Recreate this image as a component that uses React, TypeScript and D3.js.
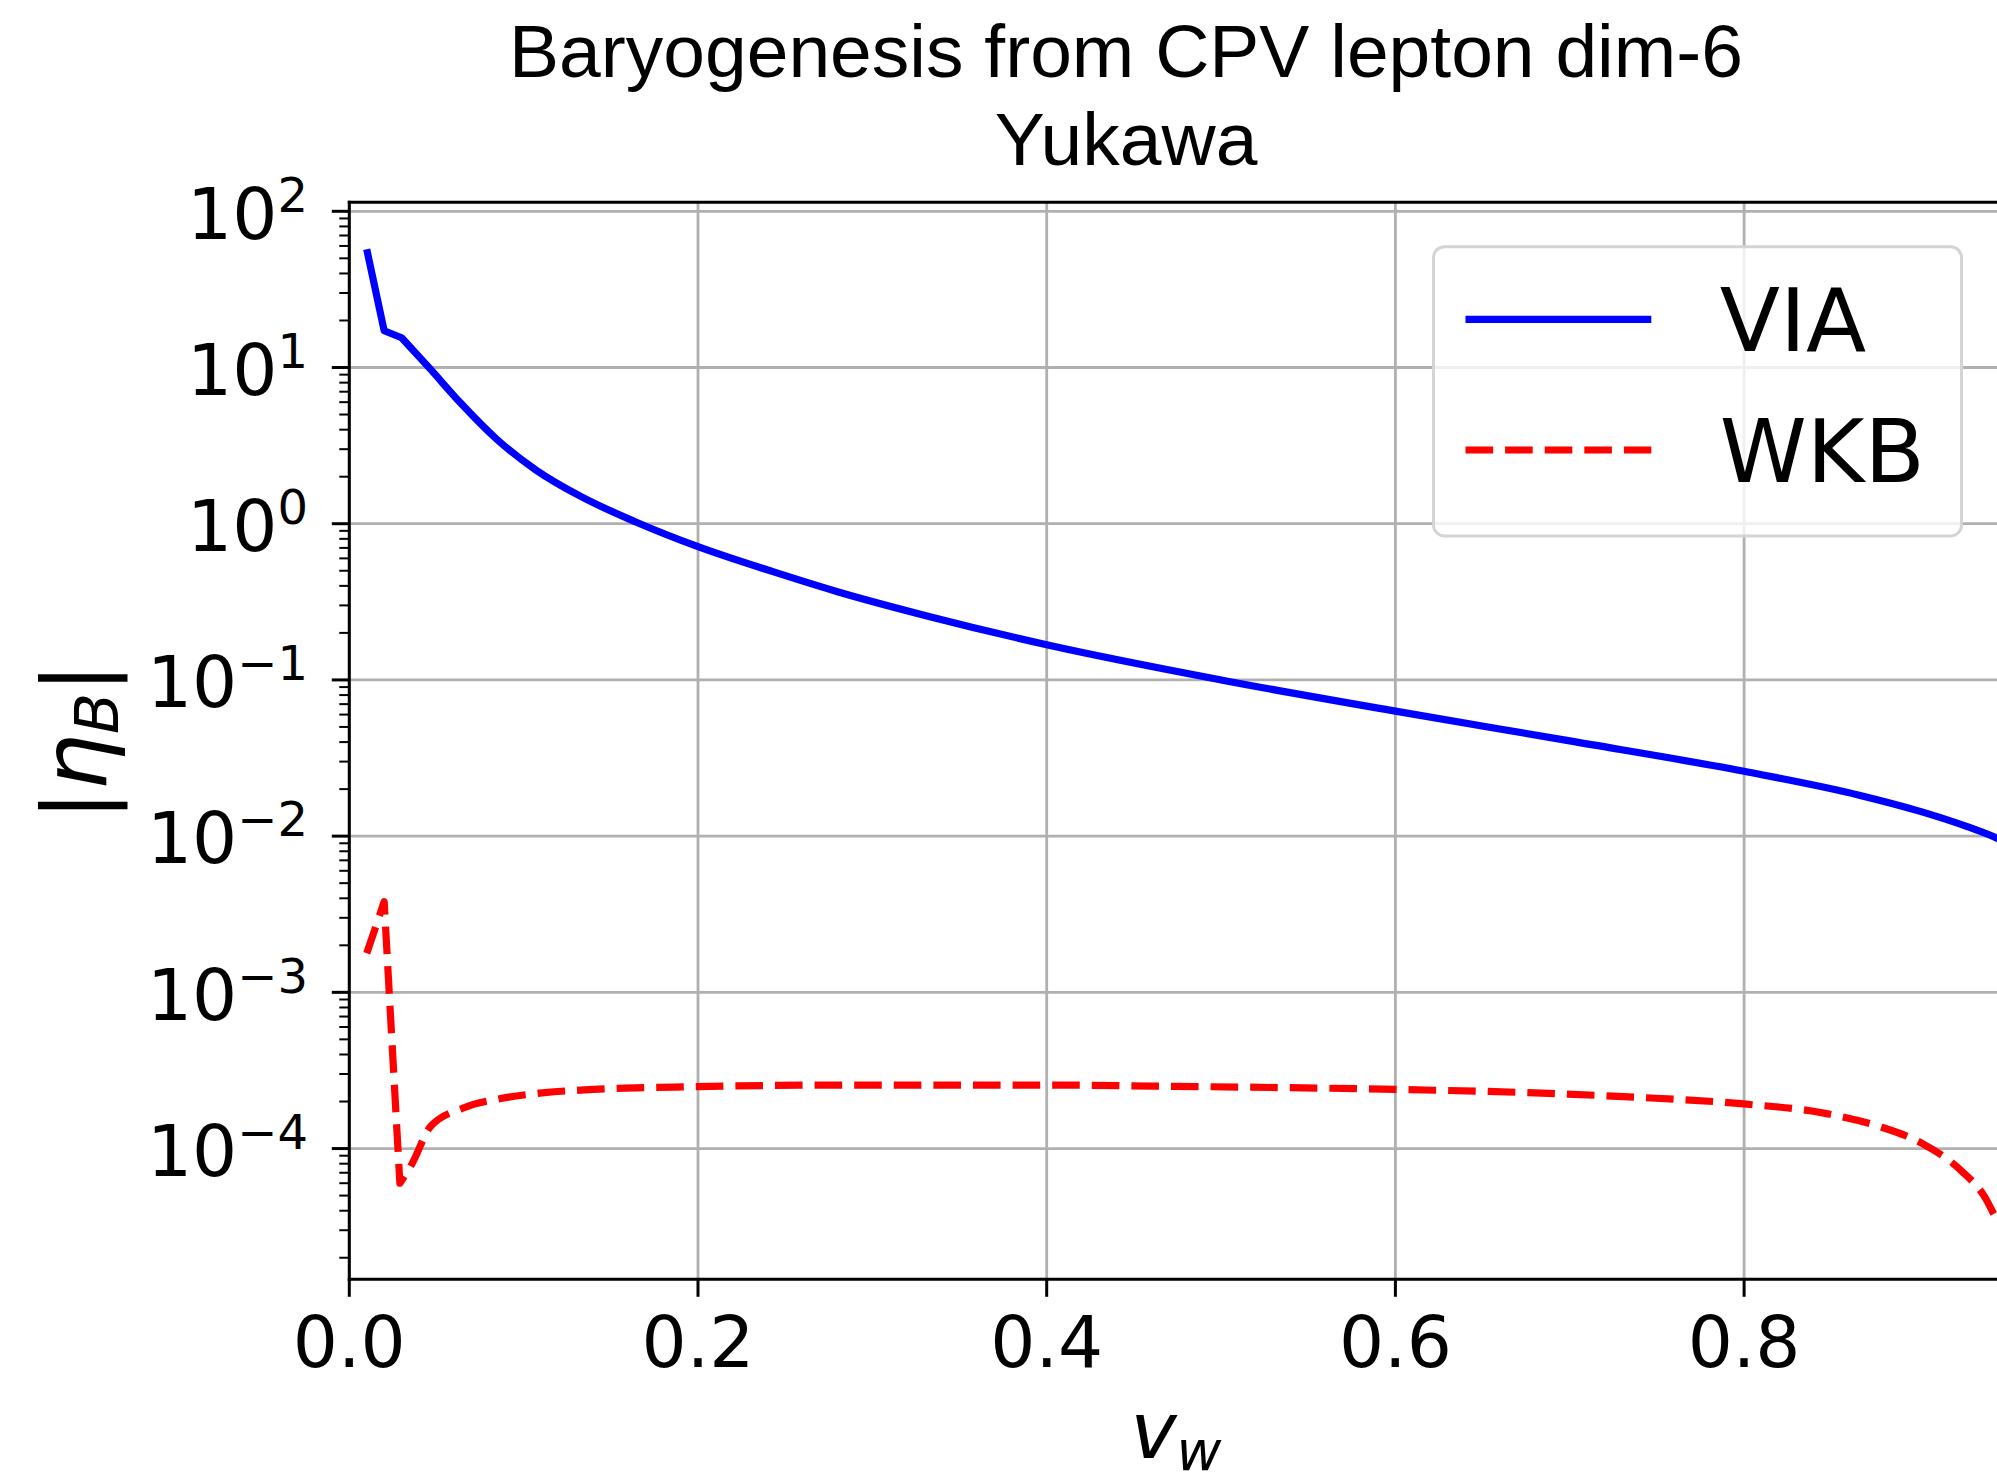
import React from "react";
import * as d3 from "d3";

// ---- data ----
const vwVIA = [0.01, 0.02, 0.03, 0.046, 0.064, 0.084, 0.107, 0.133, 0.164, 0.2, 0.243, 0.28, 0.333, 0.4, 0.5, 0.6, 0.7, 0.8, 0.866, 0.902, 0.928, 0.945, 0.95];
const etaVIA = [57.1, 17.2, 15.5, 9.9, 5.9, 3.52, 2.21, 1.49, 1.03, 0.713, 0.493, 0.367, 0.254, 0.168, 0.1, 0.0631, 0.0407, 0.026, 0.0183, 0.0143, 0.0115, 0.0097, 0.0091];
const vwWKB = [0.01, 0.02, 0.029, 0.036, 0.0465, 0.065, 0.087, 0.112, 0.14, 0.2, 0.28, 0.4, 0.46, 0.6, 0.676, 0.738, 0.8, 0.8465, 0.878, 0.902, 0.924, 0.938, 0.945, 0.95];
const etaWKB = [1.78e-3, 3.8e-3, 6.0e-5, 8.0e-5, 1.38e-4, 1.81e-4, 2.09e-4, 2.28e-4, 2.39e-4, 2.49e-4, 2.55e-4, 2.55e-4, 2.51e-4, 2.39e-4, 2.28e-4, 2.13e-4, 1.93e-4, 1.68e-4, 1.38e-4, 1.08e-4, 7.3e-5, 4.9e-5, 3.5e-5, 2.9e-5];
const xTickValues = [0, 0.2, 0.4, 0.6, 0.8];
const xTickLabels = ["0.0", "0.2", "0.4", "0.6", "0.8"];
const yTickExponents = [-4, -3, -2, -1, 0, 1, 2];
const seriesNames = ["VIA", "WKB"];
const titleLines = ["Baryogenesis from CPV lepton dim-6", "Yukawa"];

const W = 1997;
const H = 1480;
const left = 349.3;
const top = 202.3;
const bottom = 1279.3;
const pxPerUnit = 1743.5;
const xMax = 0.95;
const right = left + xMax * pxPerUnit;

const DEJAVU = "'DejaVu Sans', sans-serif";

function buildPath(xs: number[], ys: number[], x: any, y: any, nLinear: number) {
  const pts: [number, number][] = xs.map((v, i) => [x(v), y(ys[i])]);
  const lin = d3.line()(pts.slice(0, nLinear)) || "";
  const mono = d3.line().curve(d3.curveMonotoneX)(pts.slice(nLinear - 1)) || "";
  return lin + mono.replace(/^M/, "L");
}

export default function App() {
  const x = d3.scaleLinear().domain([0, xMax]).range([left, right]);
  const y = d3.scaleLog().domain([Math.pow(10, -4.837), Math.pow(10, 2.0576)]).range([bottom, top]);

  const minorTicks: number[] = [];
  for (let e = -5; e <= 2; e++) {
    for (let m = 2; m <= 9; m++) {
      const v = m * Math.pow(10, e);
      const yy = y(v);
      if (yy >= top && yy <= bottom) minorTicks.push(v);
    }
  }

  const viaPath = buildPath(vwVIA, etaVIA, x, y, 3);
  const wkbPath = buildPath(vwWKB, etaWKB, x, y, 3);

  const gridColor = "#b0b0b0";
  const lw = 7.2;
  const dash = "27.6,12";

  return (
    <div style={{ position: "absolute", left: 0, top: 0, width: W, height: H, overflow: "hidden", background: "#fff" }}>
      <svg width={W} height={H} style={{ display: "block" }}>
        <rect x={0} y={0} width={W} height={H} fill="#fff" />
        {/* title */}
        {titleLines.map((t, i) => (
          <text key={t} x={1126} y={77 + i * 88} textAnchor="middle" fontFamily="'Liberation Sans', Arial, sans-serif" fontSize={75} fill="#000">
            {t}
          </text>
        ))}

        {/* grid */}
        <g stroke={gridColor} strokeWidth={2.8}>
          {xTickValues.map((v) => (
            <line key={"gx" + v} x1={x(v)} x2={x(v)} y1={top} y2={bottom} />
          ))}
          {yTickExponents.map((e) => (
            <line key={"gy" + e} x1={left} x2={right} y1={y(Math.pow(10, e))} y2={y(Math.pow(10, e))} />
          ))}
        </g>

        {/* data */}
        <path d={viaPath} fill="none" stroke="#0000ff" strokeWidth={lw} strokeLinejoin="round" />
        <path d={wkbPath} fill="none" stroke="#ff0000" strokeWidth={lw} strokeDasharray={dash} strokeLinejoin="round" />

        {/* spines */}
        <g stroke="#000" strokeWidth={3} fill="none">
          <line x1={left} x2={left} y1={top - 1.5} y2={bottom + 1.5} />
          <line x1={left - 1.5} x2={right + 1.5} y1={top} y2={top} />
          <line x1={left - 1.5} x2={right + 1.5} y1={bottom} y2={bottom} />
          <line x1={right} x2={right} y1={top} y2={bottom} />
        </g>

        {/* ticks */}
        <g stroke="#000">
          {yTickExponents.map((e) => (
            <line key={"ty" + e} x1={left - 17.5} x2={left} y1={y(Math.pow(10, e))} y2={y(Math.pow(10, e))} strokeWidth={3} />
          ))}
          {minorTicks.map((v, i) => (
            <line key={"tm" + i} x1={left - 10} x2={left} y1={y(v)} y2={y(v)} strokeWidth={2} />
          ))}
          {xTickValues.map((v) => (
            <line key={"tx" + v} x1={x(v)} x2={x(v)} y1={bottom} y2={bottom + 17.5} strokeWidth={3} />
          ))}
        </g>

        {/* y tick labels */}
        {yTickExponents.map((e) => (
          <text key={"ly" + e} x={308} y={y(Math.pow(10, e)) + 27.3} textAnchor="end" fontFamily={DEJAVU} fontSize={71} fill="#000">
            <tspan>10</tspan>
            <tspan dy={-27} fontSize={48}>{e < 0 ? "\u2212" + Math.abs(e) : String(e)}</tspan>
          </text>
        ))}

        {/* x tick labels */}
        {xTickValues.map((v, i) => (
          <text key={"lx" + v} x={x(v)} y={1367} textAnchor="middle" fontFamily={DEJAVU} fontSize={71} fill="#000">
            {xTickLabels[i]}
          </text>
        ))}

        {/* x label */}
        <text x={1176} y={1458} textAnchor="middle" fontFamily={DEJAVU} fontSize={78} fontStyle="italic" fill="#000">
          <tspan>v</tspan>
          <tspan dy={12} fontSize={55}>w</tspan>
        </text>

        {/* y label */}
        <text transform={`translate(105.7,741.7) rotate(-90)`} textAnchor="middle" fontFamily={DEJAVU} fontSize={89} fill="#000">
          <tspan>|</tspan>
          <tspan fontStyle="italic">η</tspan>
          <tspan fontStyle="italic" fontSize={60} dy={12.6}>B</tspan>
          <tspan dy={-12.6}>|</tspan>
        </text>

        {/* legend */}
        <g>
          <rect x={1433.5} y={246.7} width={528} height={289.3} rx={11} ry={11} fill="#fff" fillOpacity={0.8} stroke="#d4d4d4" strokeWidth={3} />
          <line x1={1465.5} x2={1651.3} y1={319.3} y2={319.3} stroke="#0000ff" strokeWidth={lw} />
          <line x1={1465.5} x2={1651.3} y1={450} y2={450} stroke="#ff0000" strokeWidth={lw} strokeDasharray={dash} />
          <text x={1719.8} y={350.7} fontFamily={DEJAVU} fontSize={88} fill="#000">{seriesNames[0]}</text>
          <text x={1719.8} y={481.7} fontFamily={DEJAVU} fontSize={88} fill="#000">{seriesNames[1]}</text>
        </g>
      </svg>
    </div>
  );
}
